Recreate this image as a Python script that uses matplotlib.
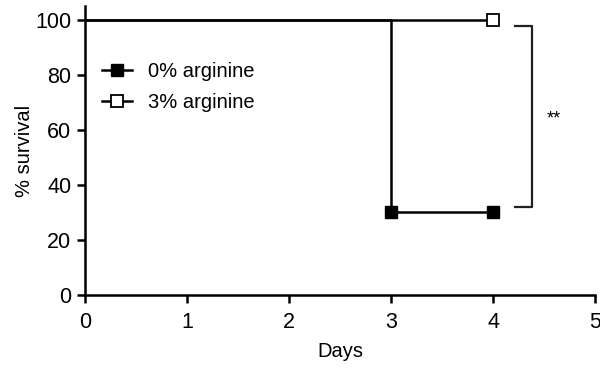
import matplotlib
matplotlib.use('Agg')
import matplotlib.pyplot as plt

plt.rcParams['font.family'] = ['Liberation Sans', 'DejaVu Sans']

# survival data (step curves)
days_0 = [0, 3, 3, 4]
surv_0 = [100, 100, 30, 30]
mark_days_0 = [3, 4]
mark_surv_0 = [30, 30]

days_3 = [0, 4]
surv_3 = [100, 100]
mark_days_3 = [4]
mark_surv_3 = [100]

fig = plt.figure(figsize=(6, 3.74), dpi=100)
ax = fig.add_axes([0.1417, 0.2112, 0.85, 0.773])

ax.plot(days_0, surv_0, color='black', lw=1.8, zorder=2)
ax.plot(mark_days_0, mark_surv_0, 's', color='black', ms=9, zorder=3)
ax.plot(days_3, surv_3, color='black', lw=1.8, zorder=1)
ax.plot(mark_days_3, mark_surv_3, 's', mfc='white', mec='black', mew=1.3, ms=9, zorder=3)

# legend handles
ax.plot([], [], '-s', color='black', ms=9, lw=1.8, label='0% arginine')
ax.plot([], [], '-s', color='black', mfc='white', mec='black', mew=1.3, ms=9, lw=1.8,
        label='3% arginine')
leg = ax.legend(loc='upper left', bbox_to_anchor=(0.005, 0.855), frameon=False,
                fontsize=14.5, handlelength=1.5, handletextpad=0.8, labelspacing=0.62,
                borderpad=0.2)

# significance bracket
ax.plot([4.22, 4.38, 4.38, 4.22], [97.8, 97.8, 32, 32], color='#222222', lw=1.6,
        clip_on=False)
ax.text(4.6, 64, '**', fontsize=13, ha='center', va='center')

ax.set_xlim(0, 5)
ax.set_ylim(0, 105)
ax.set_xticks([0, 1, 2, 3, 4, 5])
ax.set_yticks([0, 20, 40, 60, 80, 100])
ax.spines['top'].set_visible(False)
ax.spines['right'].set_visible(False)
ax.spines['left'].set_linewidth(1.8)
ax.spines['bottom'].set_linewidth(1.8)
ax.tick_params(direction='out', length=6, width=1.8, labelsize=15.5)
ax.tick_params(axis='x', pad=6)
ax.tick_params(axis='y', pad=4)
ax.set_xlabel('Days', fontsize=14.5, labelpad=7)
ax.set_ylabel('% survival', fontsize=14.5, labelpad=1)

fig.savefig('out.png', dpi=100)
